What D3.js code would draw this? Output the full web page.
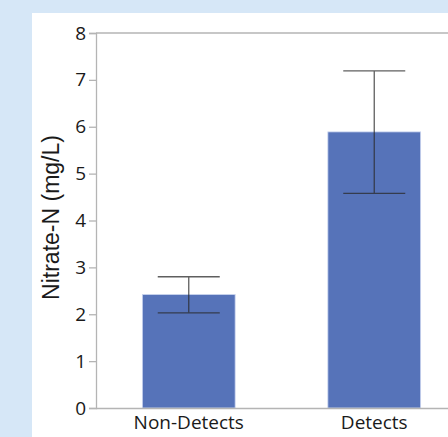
<!DOCTYPE html>
<html><head><meta charset="utf-8">
<script src="https://cdn.jsdelivr.net/npm/d3@7"></script>
<style>body{margin:0;background:#d6e7f7;}svg{display:block;}</style>
</head><body>
<script>
const categories = ["Non-Detects", "Detects"];
const means = [2.42, 5.89];
const errLow = [2.03, 4.58];
const errHigh = [2.80, 7.19];
const yTicks = [0,1,2,3,4,5,6,7,8];

const W = 448, H = 437;
const svg = d3.select("body").append("svg").attr("width", W).attr("height", H);
svg.append("rect").attr("width", W).attr("height", H).attr("fill", "#d6e7f7");
svg.append("rect").attr("x", 32).attr("y", 13).attr("width", W-32).attr("height", H-13).attr("fill", "#fff");

const x = d3.scaleBand().domain(categories).range([96, 467]).paddingInner(0.5).paddingOuter(0.25);
const y = d3.scaleLinear().domain([0, 8]).range([408, 33]);
const font = "'Open Sans', 'Noto Sans', sans-serif";

// bars
svg.selectAll("rect.bar").data(categories).enter().append("rect")
  .attr("class","bar")
  .attr("x", d => x(d)).attr("width", x.bandwidth())
  .attr("y", (d,i) => y(means[i])).attr("height", (d,i) => y(0) - y(means[i]))
  .attr("fill", "#5673b9").attr("stroke", "#c9d4ee").attr("stroke-width", 0.8);

// error bars
const eb = svg.append("g").attr("stroke", "#2a2a2a").attr("stroke-width", 1.3).attr("opacity", 0.75);
categories.forEach((c,i) => {
  const cx = x(c) + x.bandwidth()/2;
  const hw = 31;
  eb.append("line").attr("x1", cx).attr("x2", cx).attr("y1", y(errLow[i])).attr("y2", y(errHigh[i]));
  eb.append("line").attr("x1", cx-hw).attr("x2", cx+hw).attr("y1", y(errLow[i])).attr("y2", y(errLow[i]));
  eb.append("line").attr("x1", cx-hw).attr("x2", cx+hw).attr("y1", y(errHigh[i])).attr("y2", y(errHigh[i]));
});

// y axis
const ya = svg.append("g").attr("transform", "translate(96,0)")
  .call(d3.axisLeft(y).tickValues(yTicks).tickSize(7).tickPadding(3).tickFormat(d3.format("d")));
ya.select(".domain").attr("stroke", "#b4b4b4").attr("stroke-width", 1.3);
ya.selectAll(".tick line").attr("stroke", "#b4b4b4").attr("stroke-width", 1.3);
ya.selectAll(".tick text").attr("font-family", font).attr("font-size", 19).attr("fill", "#1a1a1a");

// x axis
const xa = svg.append("g").attr("transform", "translate(0,408)")
  .call(d3.axisBottom(x).tickSize(0).tickPadding(8));
xa.select(".domain").remove();
xa.selectAll(".tick text").attr("font-family", font).attr("font-size", 19).attr("fill", "#1a1a1a");
svg.append("line").attr("x1", 96).attr("x2", W).attr("y1", 408.5).attr("y2", 408.5).attr("stroke", "#b4b4b4").attr("stroke-width", 1.3);
svg.append("line").attr("x1", 96).attr("x2", W).attr("y1", 33).attr("y2", 33).attr("stroke", "#b4b4b4").attr("stroke-width", 1.3);

// y title
svg.append("text").attr("transform", "translate(59,217.5) rotate(-90)")
  .attr("text-anchor", "middle").attr("font-family", "'Liberation Sans', Arial, sans-serif").attr("font-size", 23).attr("fill", "#1a1a1a")
  .text("Nitrate-N (mg/L)");
</script>
</body></html>
